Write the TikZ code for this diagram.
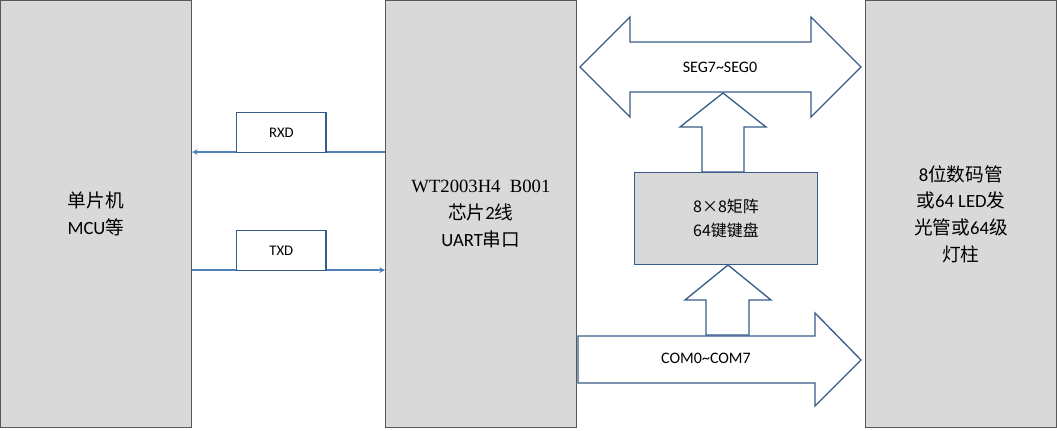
\documentclass[tikz,border=0pt]{standalone}
\usepackage{fontspec}
\setmainfont{Carlito}
\newfontfamily\cjk{Noto Sans CJK SC}
\newfontfamily\chipfont{Liberation Serif}
\usetikzlibrary{positioning}
\definecolor{boxgray}{HTML}{D9D9D9}
\definecolor{edgegray}{HTML}{595959}
\definecolor{linkblue}{HTML}{4F81BD}
\definecolor{arrowblue}{HTML}{385D8A}

\begin{document}
\begin{tikzpicture}[x=0.75pt, y=-0.75pt, thick]
    % Styles
    \tikzstyle{block} = [rectangle, draw=edgegray, fill=boxgray, minimum width=143pt, minimum height=320pt, anchor=north west, align=center, font=\fontsize{14}{20}\selectfont, line width=0.8pt]
    \tikzstyle{keypad} = [rectangle, draw=arrowblue, fill=boxgray, minimum width=137pt, minimum height=69pt, anchor=north west, align=center, font=\fontsize{12}{18}\selectfont\cjk, line width=1pt]
    \tikzstyle{tag} = [rectangle, draw=arrowblue, fill=white, minimum width=67pt, minimum height=30pt, anchor=north west, font=\fontsize{11}{13}\selectfont, line width=1pt]
    \tikzstyle{link} = [->, >=stealth, draw=linkblue, line width=0.9pt]
    \tikzstyle{fat} = [draw=arrowblue, fill=white, line width=1pt, line join=miter]
    \tikzstyle{busname} = [font=\fontsize{12}{14}\selectfont]

    \useasboundingbox (0,0) rectangle (1057,430);

    % Blocks
    \node [block] (mcu) at (0,0) {{\cjk 单片机}\\MCU{\cjk 等}};
    \node [block] (chip) at (385,0) {{\chipfont WT2003H4\ \ B001}\\{\cjk 芯片}2{\cjk 线}\\UART{\cjk 串口}};
    \node [block] (led) at (865,0) {8{\cjk 位数码管}\\{\cjk 或}64 LED{\cjk 发}\\{\cjk 光管或}64{\cjk 级}\\{\cjk 灯柱}};
    \node [keypad] (keys) at (634,172) {8×8矩阵\\64键键盘};

    % UART lines
    \coordinate (rxa) at (385,152);
    \coordinate (rxb) at (192,152);
    \coordinate (txa) at (192,270);
    \coordinate (txb) at (385,270);
    \draw [link] (rxa) -- (rxb);
    \draw [link] (txa) -- (txb);
    \node [tag] (rxd) at (236,112) {RXD};
    \node [tag] (txd) at (236,230) {TXD};

    % SEG bus (double arrow)
    \draw [fat] (580,67) -- (630,17) -- (630,42) -- (811,42) -- (811,17) -- (861,67)
        -- (811,117) -- (811,92) -- (630,92) -- (630,117) -- cycle;
    \node [busname] (seg) at (720,67) {SEG7\textasciitilde SEG0};

    % keypad to SEG
    \draw [fat] (702,172) -- (702,127) -- (680,127) -- (723,93) -- (766,127) -- (744,127) -- (744,172) -- cycle;

    % COM bus to keypad
    \draw [fat] (706,335) -- (706,300) -- (685,300) -- (728,265) -- (771,300) -- (749,300) -- (749,335) -- cycle;

    % COM bus
    \draw [fat] (578,336) -- (815,336) -- (815,313) -- (861,360) -- (815,406) -- (815,383) -- (578,383) -- cycle;
    \node [busname] (com) at (706,358) {COM0\textasciitilde COM7};
\end{tikzpicture}
\end{document}
